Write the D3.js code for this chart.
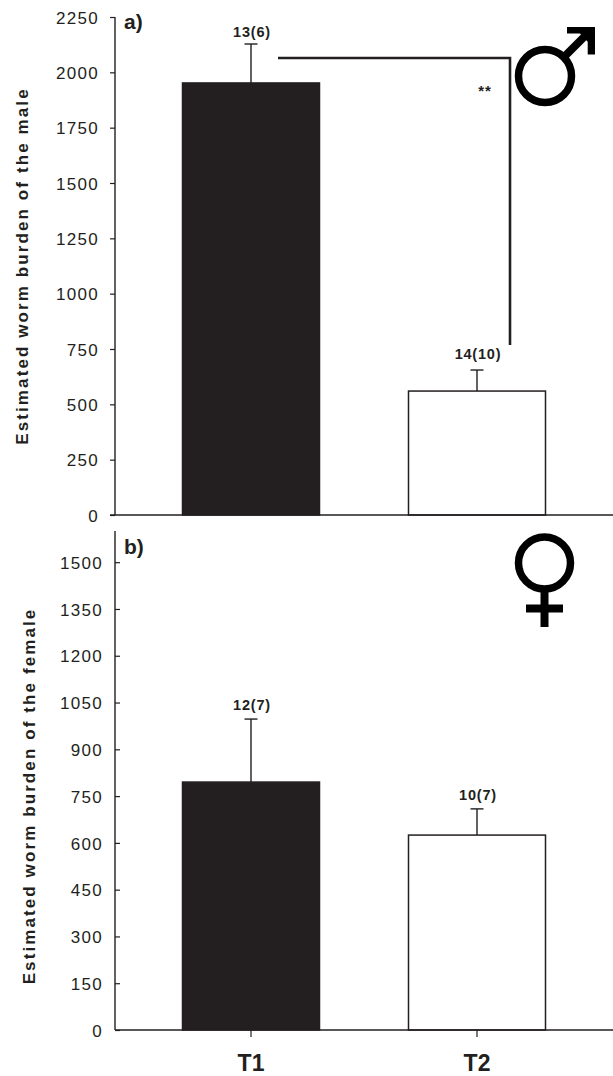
<!DOCTYPE html>
<html><head><meta charset="utf-8">
<script src="https://d3js.org/d3.v7.min.js"></script>
<style>html,body{margin:0;padding:0;background:#fff}svg{display:block}text{font-family:"Liberation Sans",Arial,sans-serif;fill:#231f20}</style>
</head><body><div id="c"></div>
<script>
const categories=["T1","T2"];
const maleValues=[1952,560];
const maleErrorTops=[2128,655];
const maleLabels=["13(6)","14(10)"];
const maleTicks=[0,250,500,750,1000,1250,1500,1750,2000,2250];
const femaleValues=[795,625];
const femaleErrorTops=[997,709];
const femaleLabels=["12(7)","10(7)"];
const femaleTicks=[0,150,300,450,600,750,900,1050,1200,1350,1500];
const barColors=["#231f20","#ffffff"];
const ink="#231f20";

const svg=d3.select("#c").append("svg").attr("width",613).attr("height",1076);
const xPos=d3.scaleOrdinal().domain(categories).range([251,477]);
const barW=137;

function panel(o){
  const y=d3.scaleLinear().domain(o.domain).range(o.range);
  const g=svg.append("g");
  g.selectAll("rect.bar").data(categories).join("rect").attr("class","bar")
    .attr("x",d=>xPos(d)-barW/2).attr("width",barW)
    .attr("y",(d,i)=>y(o.values[i])).attr("height",(d,i)=>y(0)-y(o.values[i]))
    .attr("fill",(d,i)=>barColors[i]).attr("stroke",ink).attr("stroke-width",1.5);
  g.selectAll("line.err").data(categories).join("line").attr("class","err")
    .attr("x1",d=>xPos(d)).attr("x2",d=>xPos(d))
    .attr("y1",(d,i)=>y(o.values[i])).attr("y2",(d,i)=>y(o.tops[i]))
    .attr("stroke",ink).attr("stroke-width",1.4);
  g.selectAll("line.cap").data(categories).join("line").attr("class","cap")
    .attr("x1",d=>xPos(d)-6.5).attr("x2",d=>xPos(d)+6.5)
    .attr("y1",(d,i)=>y(o.tops[i])).attr("y2",(d,i)=>y(o.tops[i]))
    .attr("stroke",ink).attr("stroke-width",1.4);
  g.selectAll("text.n").data(categories).join("text").attr("class","n")
    .attr("x",d=>xPos(d)+1).attr("y",(d,i)=>y(o.tops[i])-o.nGap[i])
    .attr("text-anchor","middle").attr("font-size",14.5).attr("font-weight","bold").attr("letter-spacing",0.8)
    .text((d,i)=>o.labels[i]);
  const axis=(o.inward?d3.axisRight(y):d3.axisLeft(y)).tickSize(5).tickValues(o.ticks).tickFormat(d3.format("d"));
  const ag=g.append("g").attr("transform","translate(115,0)").call(axis);
  ag.select(".domain").attr("stroke",ink).attr("stroke-width",1.4).attr("d",`M0,${y(0)}V${o.range[1]}`);
  ag.selectAll(".tick line").attr("stroke",ink).attr("stroke-width",1.2);
  ag.selectAll(".tick text").attr("font-family",'"Liberation Sans",Arial,sans-serif').attr("font-size",17).attr("letter-spacing",1.3)
    .attr("fill",ink).attr("text-anchor","end").attr("x",o.labelX).attr("dy","0.36em");
  g.append("line").attr("x1",o.axisStart).attr("x2",613).attr("y1",y(0)).attr("y2",y(0)).attr("stroke",ink).attr("stroke-width",1.6);
  g.append("text").attr("x",124).attr("y",o.tagY).attr("font-size",21).attr("font-weight","bold").text(o.tag);
  g.append("text").attr("transform",`translate(${o.titleX},${o.titleY}) rotate(-90)`).attr("text-anchor","middle")
    .attr("font-size",17).attr("font-weight","bold").attr("letter-spacing",2.1).text(o.title);
  return y;
}
panel({domain:[0,2250],range:[515,17],values:maleValues,tops:maleErrorTops,labels:maleLabels,ticks:maleTicks,nGap:[7,11],
  inward:false,labelX:-16,axisStart:110,tag:"a)",tagY:29,titleX:28,titleY:266,title:"Estimated worm burden of the male"});
panel({domain:[0,1600],range:[1030,531],values:femaleValues,tops:femaleErrorTops,labels:femaleLabels,ticks:femaleTicks,nGap:[9,9],
  inward:true,labelX:-12,axisStart:115,tag:"b)",tagY:554,titleX:35,titleY:796,title:"Estimated worm burden of the female"});

// x axis of lower panel
const xa=svg.append("g").selectAll("g").data(categories).join("g");
xa.append("line").attr("x1",d=>xPos(d)).attr("x2",d=>xPos(d)).attr("y1",1030).attr("y2",1037).attr("stroke",ink).attr("stroke-width",1.2);
xa.append("text").attr("x",d=>xPos(d)).attr("y",1071).attr("text-anchor","middle").attr("font-size",23).attr("font-weight","bold").text(d=>d);

// significance bracket
svg.append("path").attr("d","M278,58H510V345").attr("fill","none").attr("stroke",ink).attr("stroke-width",2.6);
svg.append("text").attr("x",485).attr("y",96).attr("text-anchor","middle").attr("font-size",15).attr("font-weight","bold").attr("letter-spacing",1).attr("fill","#444").text("**");

// male symbol
svg.append("circle").attr("cx",545).attr("cy",76).attr("r",26.5).attr("fill","none").attr("stroke","#000").attr("stroke-width",7.5);
svg.append("line").attr("x1",564).attr("y1",57).attr("x2",586).attr("y2",35).attr("stroke","#000").attr("stroke-width",8);
svg.append("path").attr("d","M567,27H595V54.5H587.7V41.7L580,33.4H567Z").attr("fill","#000");
// female symbol
svg.append("circle").attr("cx",544.5).attr("cy",563).attr("r",26).attr("fill","none").attr("stroke","#000").attr("stroke-width",7.5);
svg.append("line").attr("x1",544.5).attr("x2",544.5).attr("y1",589).attr("y2",627).attr("stroke","#000").attr("stroke-width",8);
svg.append("line").attr("x1",526).attr("x2",563).attr("y1",608.5).attr("y2",608.5).attr("stroke","#000").attr("stroke-width",8);
</script></body></html>
